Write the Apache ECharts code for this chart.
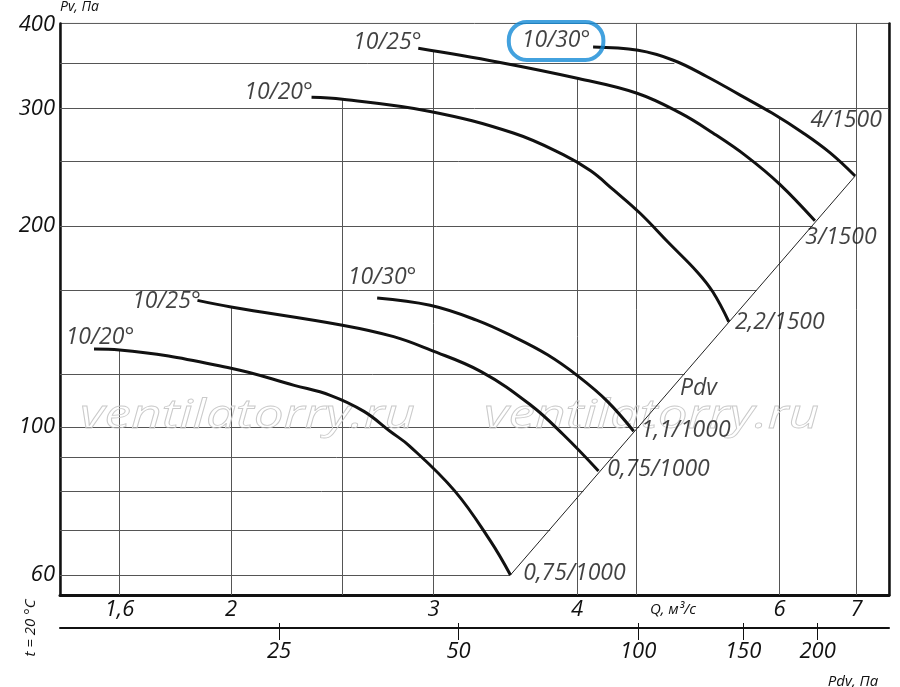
<!DOCTYPE html>
<html><head><meta charset="utf-8">
<script src="https://cdn.jsdelivr.net/npm/echarts@6/dist/echarts.min.js"></script>
<style>html,body{margin:0;padding:0;background:#fff}#c{width:900px;height:687px}</style>
</head><body><div id="c"></div>
<script>
// ---- tick labels ----
const qTicks = [1.6, 2, 3, 4, 6, 7];          // Q, m3/s
const pvTicks = [60, 100, 200, 300, 400];     // Pv, Pa
const pdvTicks = [25, 50, 100, 150, 200];     // Pdv, Pa

// ---- curves (Q, Pv) ----
const q_4_1500  = [4.13, 4.52, 4.85, 5.19, 5.54, 5.91, 6.29, 6.64, 6.98];
const pv_4_1500 = [370.7, 366.4, 354.1, 334.5, 314.2, 295.1, 275.5, 257.2, 237.5];
const q_3_1500  = [2.91, 3.41, 4.01, 4.51, 4.92, 5.25, 5.62, 6.0, 6.44];
const pv_3_1500 = [369, 352, 332.5, 316, 295, 275.5, 254, 231, 203.5];
const q_22_1500  = [2.35, 2.5, 2.98, 3.52, 3.89, 4.11, 4.30, 4.54, 4.80, 5.09, 5.25, 5.42];
const pv_22_1500 = [311.6, 309.5, 296.8, 275.5, 255.7, 241.8, 226.6, 208.7, 189.0, 170.5, 159.2, 143.7];
const q_11_1000  = [2.68, 2.98, 3.27, 3.52, 3.77, 4.01, 4.25, 4.48];
const pv_11_1000 = [156, 152.1, 144.5, 136.5, 128.2, 119, 109.2, 98.5];
const q_075a_1000  = [1.87, 2.0, 2.5, 2.77, 2.98, 3.3, 3.64, 3.89, 4.175];
const pv_075a_1000 = [154.7, 151.2, 142, 136.5, 130.4, 121, 108, 97.4, 85.9];
const q_075b_1000  = [1.52, 1.6, 2.0, 2.27, 2.44, 2.61, 2.75, 2.86, 3.13, 3.36, 3.5];
const pv_075b_1000 = [130.8, 130.4, 122.4, 115.4, 111.5, 105.5, 98.5, 93.6, 80.2, 67.6, 60];

const startLabels = ['10/30°', '10/25°', '10/20°', '10/30°', '10/25°', '10/20°'];
const endLabels   = ['4/1500', '3/1500', '2,2/1500', '1,1/1000', '0,75/1000', '0,75/1000'];

// ---- dynamic pressure line Pdv (Q, Pv) ----
const pdvLineQ = [3.5, 6.98];
const pdvLinePv = [60, 237.5];
const pdvLabelAt = [5.1, 114];

// ---- grid lines (drawing grid, clipped as in the drawing) ----
const hGridPv   = [60, 70, 80, 90, 100, 120, 160, 200, 250, 300, 350];
const hGridEndQ = [3.5, 3.79, 4.05, 4.30, 4.53, 4.96, 5.73, 6.41, 7.0, 7.47, 4.86];
const vGridQ     = [1.6, 2, 2.5, 3, 4, 4.5, 6, 7];
const vGridTopPv = [130.4, 151.2, 309.5, 365, 332.5, 402, 292, 402];

// ---- axis ranges ----
const qMin = 1.42, qMax = 7.47, pvMin = 56, pvMax = 402, pdvMin = 10.73, pdvMax = 263.4;

const FONT = '"Open Sans", "Noto Sans", sans-serif';
const INK = '#111';

const curves = [
  [q_4_1500, pv_4_1500], [q_3_1500, pv_3_1500], [q_22_1500, pv_22_1500],
  [q_11_1000, pv_11_1000], [q_075a_1000, pv_075a_1000], [q_075b_1000, pv_075b_1000]
];
const startOffsets = [[-37, -6], [-31, -6], [-33, -5], [5, -20], [-31, 1], [6, -12]];
const endOffsets = [[-9, -56], [26, 17], [51, 1], [52, -1], [60, -1], [64, -2]];

const gridLines = [];
hGridPv.forEach((p, i) => gridLines.push({coords: [[qMin, p], [hGridEndQ[i], p]]}));
vGridQ.forEach((q, i) => gridLines.push({coords: [[q, pvMin], [q, vGridTopPv[i]]]}));

const curveSeries = curves.map(c => ({
  type: 'line', xAxisIndex: 0, yAxisIndex: 0, smooth: 0.4, symbol: 'none', silent: true, z: 5,
  lineStyle: {color: INK, width: 3, cap: 'butt'},
  data: c[0].map((q, i) => [q, c[1][i]])
}));

const txt = {fontFamily: FONT, fontStyle: 'italic', fontSize: 23, color: INK};
const labelData = [];
curves.forEach((c, i) => {
  const last = c[0].length - 1;
  const sl = Object.assign({show: true, position: 'inside', offset: startOffsets[i], formatter: startLabels[i]}, txt);
  if (i === 0) Object.assign(sl, {borderColor: '#138ad6', borderWidth: 4, borderRadius: 18, padding: [8, 13, 7, 13]});
  labelData.push({value: [c[0][0], c[1][0]], label: sl});
  labelData.push({value: [c[0][last], c[1][last]],
    label: Object.assign({show: true, position: 'inside', offset: endOffsets[i], formatter: endLabels[i]}, txt)});
});
labelData.push({value: pdvLabelAt, label: Object.assign({show: true, position: 'inside', formatter: 'Pdv'}, txt)});

const axisLabelStyle = {fontFamily: FONT, fontStyle: 'italic', fontSize: 22, color: INK};
const fmtNum = v => String(+(+v).toFixed(2)).replace('.', ',');

const wm = x => ({type: 'text', z: 3, x: x, y: 417, scaleX: 1.33, scaleY: 1,
  style: {x: 0, y: 0, text: 'ventilatorry.ru', verticalAlign: 'middle', font: 'italic 40px ' + FONT,
          fill: 'rgba(255,255,255,0)', stroke: '#cacaca', lineWidth: 0.8}});

const option = {
  animation: false,
  backgroundColor: '#fff',
  grid: {left: 60, right: 11, top: 19.5, bottom: 92, show: true, borderColor: '#555', borderWidth: 1},
  xAxis: [
    {type: 'log', logBase: 10, min: qMin, max: qMax, position: 'bottom', gridIndex: 0,
     axisLine: {show: true, onZero: false, lineStyle: {color: INK, width: 3}},
     axisTick: {show: false}, splitLine: {show: false}, minorTick: {show: false},
     axisLabel: Object.assign({customValues: qTicks, margin: 4, formatter: fmtNum}, axisLabelStyle)},
    {type: 'log', logBase: 10, min: pdvMin, max: pdvMax, position: 'bottom', offset: 33, gridIndex: 0,
     axisLine: {show: true, onZero: false, lineStyle: {color: INK, width: 2}},
     axisTick: {show: true, customValues: pdvTicks, length: 12, lineStyle: {color: INK, width: 1}},
     splitLine: {show: false},
     axisLabel: Object.assign({customValues: pdvTicks, margin: 13, formatter: fmtNum}, axisLabelStyle)},
    {type: 'log', logBase: 10, min: pdvMin, max: pdvMax, position: 'bottom', offset: 33, gridIndex: 0,
     axisLine: {show: false},
     axisTick: {show: true, inside: true, customValues: pdvTicks, length: 5, lineStyle: {color: INK, width: 1}},
     splitLine: {show: false}, axisLabel: {show: false}}
  ],
  yAxis: [
    {type: 'log', logBase: 10, min: pvMin, max: pvMax, position: 'left', gridIndex: 0,
     name: 'Pv, Па', nameLocation: 'end', nameGap: 4,
     nameTextStyle: {fontFamily: FONT, fontStyle: 'italic', fontSize: 14, color: INK, align: 'left', verticalAlign: 'bottom'},
     axisLine: {show: true, onZero: false, lineStyle: {color: INK, width: 2.5}},
     axisTick: {show: false}, splitLine: {show: false},
     axisLabel: Object.assign({customValues: pvTicks, margin: 5, formatter: fmtNum}, axisLabelStyle)},
    {type: 'log', logBase: 10, min: pvMin, max: pvMax, position: 'right', gridIndex: 0,
     axisLine: {show: true, onZero: false, lineStyle: {color: INK, width: 2.5}},
     axisTick: {show: false}, splitLine: {show: false}, axisLabel: {show: false}}
  ],
  series: [
    {type: 'lines', coordinateSystem: 'cartesian2d', xAxisIndex: 0, yAxisIndex: 0, silent: true, z: 1,
     lineStyle: {color: '#555', width: 1, opacity: 1, curveness: 0}, data: gridLines},
    {type: 'lines', coordinateSystem: 'cartesian2d', xAxisIndex: 0, yAxisIndex: 0, silent: true, z: 4,
     lineStyle: {color: '#222', width: 1, opacity: 1, curveness: 0},
     data: [{coords: pdvLineQ.map((q, i) => [q, pdvLinePv[i]])}]},
    ...curveSeries,
    {type: 'scatter', xAxisIndex: 0, yAxisIndex: 0, symbolSize: 1, silent: true, z: 6,
     itemStyle: {color: 'rgba(0,0,0,0)'}, data: labelData}
  ],
  graphic: [
    wm(80), wm(484),
    {type: 'text', z: 10, style: {x: 673, y: 610, text: 'Q, м³/с', align: 'center', verticalAlign: 'middle', font: 'italic 15px ' + FONT, fill: INK}},
    {type: 'text', z: 10, style: {x: 853, y: 682, text: 'Pdv, Па', align: 'center', verticalAlign: 'middle', font: 'italic 15px ' + FONT, fill: INK}},
    {type: 'text', z: 10, x: 31, y: 628, rotation: Math.PI / 2, style: {x: 0, y: 0, text: 't = 20 °C', align: 'center', verticalAlign: 'middle', font: 'italic 15px ' + FONT, fill: INK}}
  ]
};
const chart = echarts.init(document.getElementById('c'));
chart.setOption(option);
</script>
</body></html>
